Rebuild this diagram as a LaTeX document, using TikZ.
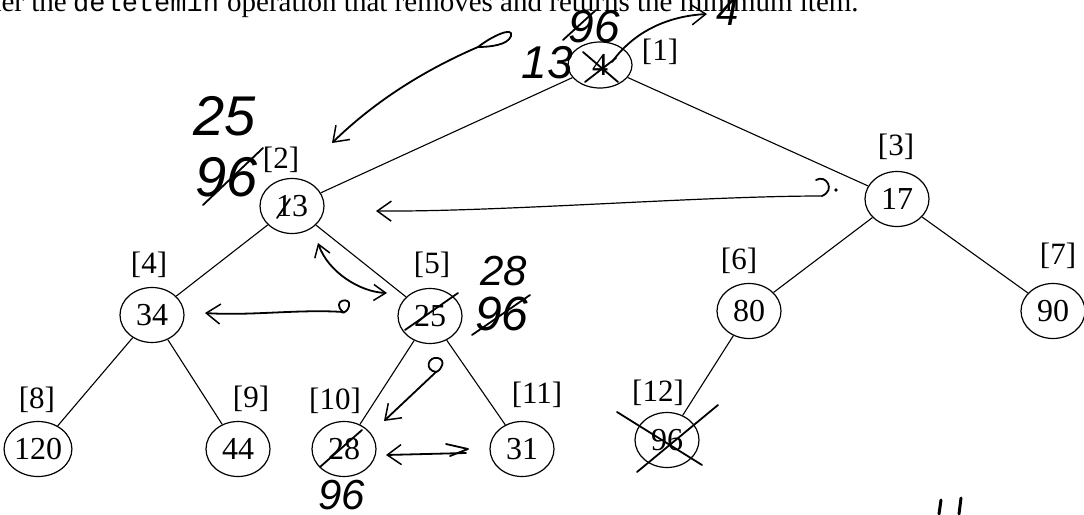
\documentclass[tikz,border=0pt]{standalone}
\usepackage{fontspec}
\setmainfont{Liberation Serif}
\setmonofont{Liberation Mono}
\newfontfamily\handfont{Liberation Sans}
\usetikzlibrary{arrows.meta,shapes.geometric}
\begin{document}
\begin{tikzpicture}[x=1pt,y=-1pt,
  key/.style={ellipse, draw, line width=1.2pt, minimum width=64pt, minimum height=55pt, inner sep=0pt, font=\fontsize{32}{32}\selectfont},
  idx/.style={font=\fontsize{31}{31}\selectfont, inner sep=0pt},
  edge/.style={line width=1.1pt},
  hand/.style={line width=1.8pt, line cap=round, line join=round},
  handtxt/.style={font=\handfont\itshape\fontsize{46}{46}\selectfont, inner sep=0pt},
  prose/.style={font=\fontsize{29}{29}\selectfont, inner sep=0pt},
  barb/.style={-{Straight Barb[length=14pt,width=20pt,line width=1.5pt]}},
  dbarb/.style={{Straight Barb[length=12pt,width=16pt,line width=1.5pt]}-{Straight Barb[length=12pt,width=16pt,line width=1.5pt]}}
]
\useasboundingbox (0,0) rectangle (1084,514);
\clip (0,0) rectangle (1084,514);

% cut-off line of text at the top
\node[prose, anchor=base east] (t1) at (67,12) {Consider the};
\node[inner sep=0pt, anchor=base west, font=\ttfamily\fontsize{27}{27}\selectfont] (t2) at (73,12) {deletemin};
\node[prose, anchor=base west] (t3) at (227,12) {operation that removes and returns the minimum item.};

% heap nodes
\node[key, minimum height=46pt] (n1) at (600,65) {4};
\node[key] (n2) at (292,206) {13};
\node[key] (n3) at (897,199) {17};
\node[key] (n4) at (152,315) {34};
\node[key] (n5) at (430,316) {25};
\node[key] (n6) at (749,311) {80};
\node[key] (n7) at (1053,311) {90};
\node[key] (n8) at (38,449) {120};
\node[key] (n9) at (238,449) {44};
\node[key] (n10) at (344,449) {28};
\node[key] (n11) at (522,449) {31};
\node[key] (n12) at (667,440) {96};

\draw[edge] (n1) -- (n2);
\draw[edge] (n1) -- (n3);
\draw[edge] (n2) -- (n4);
\draw[edge] (n2) -- (n5);
\draw[edge] (n3) -- (n6);
\draw[edge] (n3) -- (n7);
\draw[edge] (n4) -- (n8);
\draw[edge] (n4) -- (n9);
\draw[edge] (n5) -- (n10);
\draw[edge] (n5) -- (n11);
\draw[edge] (n6) -- (n12);

% index labels
\node[idx] (l1) at (660,52) {[1]};
\node[idx] (l2) at (281,160) {[2]};
\node[idx] (l3) at (896,147) {[3]};
\node[idx] (l4) at (149,265) {[4]};
\node[idx] (l5) at (432,265) {[5]};
\node[idx] (l6) at (739,261) {[6]};
\node[idx] (l7) at (1058,256) {[7]};
\node[idx] (l8) at (37,400) {[8]};
\node[idx] (l9) at (251,399) {[9]};
\node[idx] (l10) at (335,401) {[10]};
\node[idx] (l11) at (537,395) {[11]};
\node[idx] (l12) at (658,393) {[12]};

% handwritten annotations
\node[handtxt] (h13) at (547,63) {13};
\node[handtxt] (h96a) at (594,27) {96};
\draw[hand] (563,40) -- (596,10);
\node[handtxt, font=\handfont\itshape\fontsize{40}{40}\selectfont] (h4a) at (728,12) {4};
\coordinate (c4s) at (612,62);
\coordinate (c4e) at (707,14);
\draw[hand,barb] (c4s) .. controls (635,30) and (670,16) .. (c4e);
\draw[hand] (583,52) -- (618,82);
\draw[hand] (585,82) -- (616,58);

\coordinate (cl1) at (478,47);
\coordinate (cl2) at (332,143);
\draw[hand] (cl1) .. controls (492,36) and (514,26) .. (511,36) .. controls (508,45) and (490,47) .. (cl1);
\draw[hand,barb] (cl1) .. controls (420,72) and (372,104) .. (cl2);

\node[handtxt, font=\handfont\itshape\fontsize{56}{56}\selectfont] (h25a) at (225,116) {25};
\node[handtxt, font=\handfont\itshape\fontsize{56}{56}\selectfont] (h96b) at (227,177) {96};
\draw[hand] (203,205) -- (263,148);
\draw[hand] (277,218) -- (290,199);

\coordinate (cr1) at (822,196);
\coordinate (cr2) at (376,211);
\draw[hand, line width=1.2pt, barb] (cr1) .. controls (700,196) and (500,212) .. (cr2);
\draw[hand] (816,180) .. controls (826,174) and (836,190) .. (cr1);
\fill (836,190) circle (1.8);

\coordinate (cd1) at (318,243);
\coordinate (cd2) at (387,293);
\draw[hand,dbarb] (cd1) .. controls (328,272) and (360,292) .. (cd2);

\coordinate (cf1) at (343,312);
\coordinate (cf2) at (205,313);
\draw[hand] (cf1) .. controls (330,300) and (352,296) .. (349,306) .. controls (347,314) and (340,313) .. (cf1);
\draw[hand,barb] (cf1) .. controls (300,309) and (250,316) .. (cf2);

\node[handtxt, font=\handfont\itshape\fontsize{42}{42}\selectfont] (h28a) at (504,271) {28};
\node[handtxt, font=\handfont\itshape\fontsize{48}{48}\selectfont] (h96c) at (502,314) {96};
\draw[hand] (472,335) -- (530,295);
\draw[hand] (405,330) -- (458,293);

\coordinate (cg1) at (436,372);
\coordinate (cg2) at (384,421);
\draw[hand] (cg1) .. controls (424,370) and (428,356) .. (438,358) .. controls (446,360) and (442,370) .. (cg1);
\draw[hand,barb] (cg1) -- (cg2);

\draw[hand] (320,467) -- (362,430);
\node[handtxt, font=\handfont\itshape\fontsize{42}{42}\selectfont] (h96d) at (342,495) {96};

\coordinate (ch1) at (466,453);
\coordinate (ch2) at (386,455);
\draw[hand] (446,444) -- (468,449) -- (450,456);
\draw[hand,barb] (ch1) -- (ch2);

\draw[hand] (617,412) -- (702,465);
\draw[hand] (637,472) -- (718,405);

\draw[hand, line width=3pt] (941,500) -- (939,514);
\draw[hand, line width=3pt] (961,498) -- (959,514);
\end{tikzpicture}
\end{document}
